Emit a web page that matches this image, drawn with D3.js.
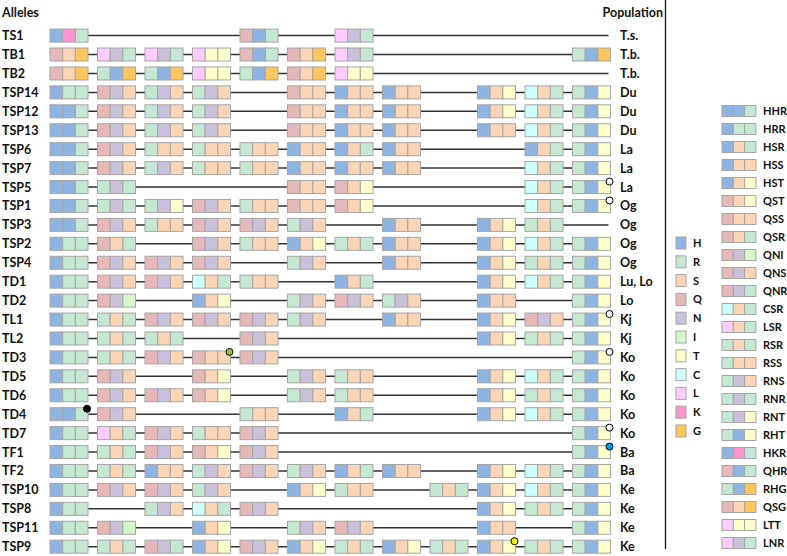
<!DOCTYPE html>
<html><head><meta charset="utf-8">
<script src="https://cdn.jsdelivr.net/npm/d3@7"></script>
<style>body{margin:0;background:#fff}text{font-family:Lato,"Open Sans",sans-serif;font-weight:bold;fill:#111}</style>
</head><body><svg id="c" width="787" height="556"></svg>
<script>
const alleles = ["TS1","TB1","TB2","TSP14","TSP12","TSP13","TSP6","TSP7","TSP5","TSP1","TSP3","TSP2","TSP4","TD1","TD2","TL1","TL2","TD3","TD5","TD6","TD4","TD7","TF1","TF2","TSP10","TSP8","TSP11","TSP9"];
const populations = ["T.s.","T.b.","T.b.","Du","Du","Du","La","La","La","Og","Og","Og","Og","Lu, Lo","Lo","Kj","Kj","Ko","Ko","Ko","Ko","Ko","Ba","Ba","Ke","Ke","Ke","Ke"];
const patterns = [
 "HKR,,,,QHR,,LNR,,,,,",
 "QSG,LNR,LNR,LTT,QHR,QSG,LNR,,,,,RHG",
 "QSG,RHG,RHG,LTT,RHG,QSG,LTT,,,,,",
 "HRR,QNS,RNS,RNS,,QSS,HSS,HSS,,HST,CSR,RHT",
 "HHR,QNS,RNS,RNS,,QSS,HSS,HSS,,HST,CSR,RHT",
 "HHR,QNS,RNS,RNS,,QSS,HSS,HSS,,HSS,CSR,RHT",
 "HHR,QNS,RSS,RSS,RSS,HSS,HSR,HSS,,,HSR,RHT",
 "HHR,QNS,RNS,RSS,RSS,HSS,HSS,HSS,,,CSR,RHT",
 "HHR,RNR,,,,QSS,QST,,,,CSR,RHT",
 "HHR,RNR,RNT,QNS,RSS,QSS,QST,,,,CSR,RHT",
 "HHR,QNS,RSS,QNS,QNS,RNS,,HSS,,HST,RSR,",
 "HRR,QSR,,QNS,RSS,HST,RSR,HSS,,HST,CSR,RHT",
 "HRR,QNS,QNS,QNS,,RNS,,HSS,,HST,RSR,RHT",
 "HRR,QNS,QNS,CSR,RSS,,HSR,,,HST,CSR,RHT",
 "HRR,QNI,,HST,,RNS,QNS,RNS,,HSS,,RHT",
 "HRR,RSR,QNS,QNS,QNS,RNS,,HSS,,HST,QNS,RHT",
 "HRR,RSR,RSR,,QNS,,,,,HST,RSR,RHT",
 "HRR,RSR,QNS,QSS,QNS,,,,,,,RHT",
 "HRR,QNS,,QST,,RNS,RSS,,,HST,CSR,RHT",
 "HRR,QNS,QNS,QST,,RNS,RSS,,,HST,RSR,RHT",
 "HHR,QNS,,,RSS,,HSR,,,HST,CSR,RHT",
 "HRR,LSR,QNS,RSS,QNS,,,,,,,RHT",
 "HRR,RSR,QNS,QST,QNS,,,,,,,RHT",
 "HRR,RSR,HSS,RNS,QNS,RNS,HSR,HSS,,HST,CSR,RHT",
 "HRR,QNS,QNS,RNS,,HST,RSS,,RSR,HST,CSR,RHT",
 "HRR,,RNS,CSR,QNS,,,,,HST,RSR,RHT",
 "HRR,QNI,,HST,,RNS,QNS,,,HSS,,RHT",
 "HRR,RSR,QNR,HST,QNS,HST,RSR,HST,RSR,HST,RSR,RHT"
];
const markerAlleles = ["TSP5","TSP1","TL1","TD3","TD3","TD4","TD7","TF1","TSP9"];
const markerSlots = [11,11,11,3,11,0,11,11,9];
const markerKinds = ["open","open","open","green","open","black","open","blue","yellow"];
const residues = ["H","R","S","Q","N","I","T","C","L","K","G"];
const motifs = ["HHR","HRR","HSR","HSS","HST","QST","QSS","QSR","QNI","QNS","QNR","CSR","LSR","RSR","RSS","RNS","RNR","RNT","RHT","HKR","QHR","RHG","QSG","LTT","LNR"];

const colors = {H:"#8db4e2",R:"#c4e8d2",S:"#fbd5b5",Q:"#e6b9b8",N:"#ccc1da",I:"#d6f7c8",T:"#ffffcc",C:"#ccffff",L:"#ffccff",K:"#ff95cf",G:"#fec65c"};
const markerColors = {open:"#ffffff",green:"#8cc63f",black:"#000000",blue:"#00a0e0",yellow:"#ffff00"};

const svg = d3.select("#c");
const slots = d3.range(12);
const x = d3.scaleBand().domain(slots).range([50,610.5]).paddingInner(0.2).paddingOuter(0);
const y = d3.scalePoint().domain(alleles).range([35.6,546.7]);
const bh = 13, bw = x.bandwidth()/3;

svg.append("text").attr("x",2).attr("y",17).attr("font-size",12.5).text("Alleles");
svg.append("text").attr("x",663).attr("y",17).attr("font-size",12.5).attr("text-anchor","end").text("Population");
svg.append("line").attr("x1",665.5).attr("x2",665.5).attr("y1",0).attr("y2",549).attr("stroke","#111").attr("stroke-width",1.3);

const rows = svg.selectAll("g.row").data(alleles).join("g").attr("class","row")
  .attr("transform",d=>`translate(0,${y(d)})`);
rows.append("text").attr("x",2).attr("y",4.5).attr("font-size",12.5).text(d=>d);
rows.append("text").attr("x",620).attr("y",4.5).attr("font-size",12.5).text((d,i)=>populations[i]);
rows.append("line").attr("x1",x(0)).attr("x2",x(11)+x.bandwidth()-2).attr("y1",0).attr("y2",0)
  .attr("stroke","#333").attr("stroke-width",1.5);

rows.each(function(d,i){
  const g = d3.select(this);
  const parts = patterns[i].split(",");
  parts.forEach((m,s)=>{
    if(!m) return;
    m.split("").forEach((r,k)=>{
      g.append("rect").attr("x",x(s)+k*bw).attr("y",-bh/2).attr("width",bw).attr("height",bh)
        .attr("fill",colors[r]).attr("stroke","#a6a6a6").attr("stroke-width",1);
    });
  });
});

markerAlleles.forEach((a,i)=>{
  svg.append("circle").attr("cx",x(markerSlots[i])+x.bandwidth()-1).attr("cy",y(a)-5.5).attr("r",3.5)
    .attr("fill",markerColors[markerKinds[i]]).attr("stroke","#000").attr("stroke-width",1);
});

// legend 1
const ly1 = d3.scalePoint().domain(residues).range([243,431]);
const l1 = svg.selectAll("g.l1").data(residues).join("g").attr("transform",d=>`translate(676,${ly1(d)})`);
l1.append("rect").attr("x",0).attr("y",-6).attr("width",10).attr("height",12).attr("fill",d=>colors[d]).attr("stroke","#a6a6a6");
l1.append("text").attr("x",17).attr("y",4).attr("font-size",11).text(d=>d);

// legend 2
const ly2 = d3.scalePoint().domain(motifs).range([111,543]);
const l2 = svg.selectAll("g.l2").data(motifs).join("g").attr("transform",d=>`translate(722,${ly2(d)})`);
l2.each(function(m){
  const g = d3.select(this);
  m.split("").forEach((r,k)=>{
    g.append("rect").attr("x",k*11.3).attr("y",-5.5).attr("width",11.3).attr("height",11).attr("fill",colors[r]).attr("stroke","#a6a6a6");
  });
});
l2.append("text").attr("x",41).attr("y",4).attr("font-size",11).text(d=>d);
</script></body></html>
